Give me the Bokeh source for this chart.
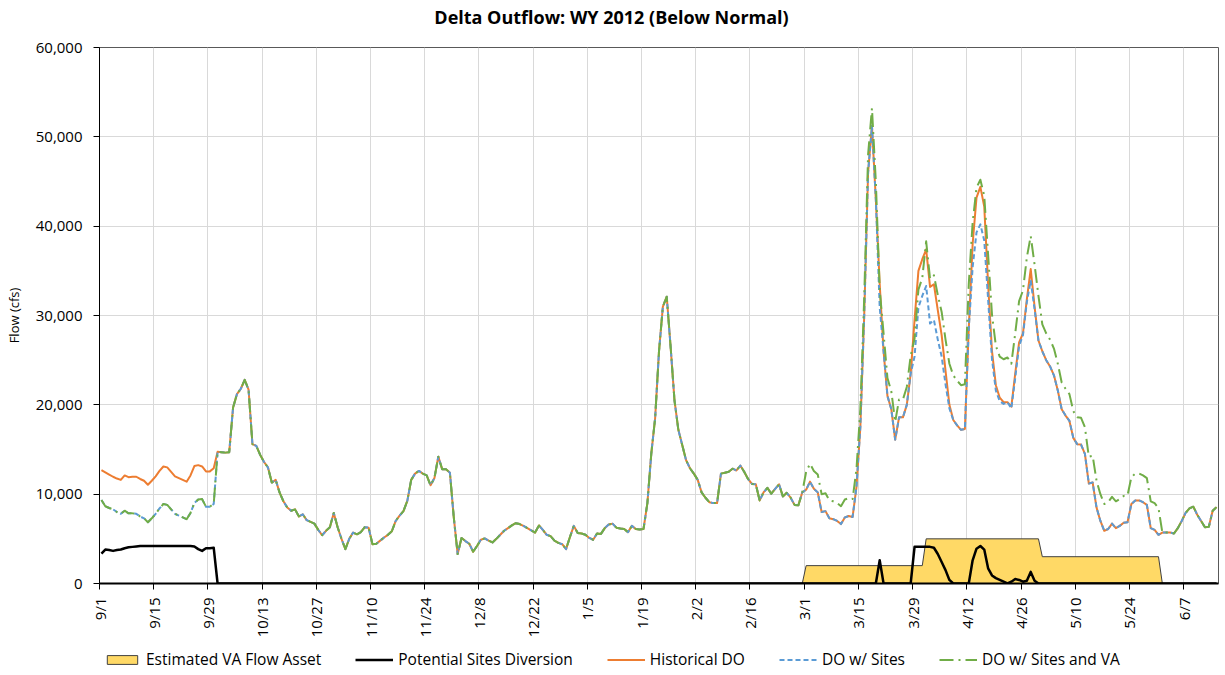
import numpy as np
import pandas as pd
from bokeh.plotting import figure
from bokeh.layouts import column
from bokeh.models import (Range1d, FixedTicker, NumeralTickFormatter, Legend,
                          LegendItem, Label)
from bokeh.embed import file_html
from bokeh.resources import INLINE

FONT = "Open Sans"

# Daily flows, 9/1/2011 - 6/15/2012 (cfs)
dates = pd.date_range("2011-09-01", "2012-06-15", freq="D")

historical_do = [
    12700, 12450, 12200, 11950, 11750, 11600, 12100, 11900, 11950, 11950,
    11700, 11500, 11050, 11500, 12000, 12600, 13100, 13000, 12500, 12000,
    11800, 11600, 11400, 12100, 13150, 13250, 13100, 12550, 12550, 12900,
    14750, 14700, 14650, 14700, 19700, 21200, 21800, 22800, 21700, 15600,
    15400, 14400, 13600, 13000, 11300, 11600, 10200, 9200, 8500, 8150,
    8300, 7500, 7750, 7100, 6900, 6700, 6000, 5400, 5900, 6300,
    7900, 6300, 5000, 3850, 5000, 5700, 5500, 5750, 6300, 6250,
    4400, 4450, 4800, 5150, 5450, 5850, 7000, 7600, 8100, 9250,
    11600, 12300, 12600, 12300, 12100, 11000, 11800, 14200, 12800, 12800,
    12400, 7400, 3300, 5100, 4750, 4450, 3550, 4200, 4900, 5050,
    4800, 4600, 5000, 5450, 5900, 6200, 6500, 6750, 6650, 6450,
    6200, 5950, 5700, 6500, 6000, 5450, 5300, 4800, 4550, 4400,
    3850, 5200, 6450, 5650, 5600, 5450, 5100, 4900, 5600, 5550,
    6200, 6600, 6700, 6250, 6150, 6100, 5750, 6450, 6100, 6050,
    6100, 9000, 14500, 18500, 26000, 31000, 32100, 26500, 20500, 17200,
    15500, 13800, 12900, 12300, 11600, 10200, 9600, 9100, 9000, 9000,
    12300, 12400, 12500, 12850, 12650, 13200, 12500, 11700, 11150, 11100,
    9300, 10200, 10700, 10050, 10600, 11100, 9750, 10150, 9600, 8800,
    8750, 10200, 10500, 11400, 10600, 10200, 8000, 8100, 7300, 7200,
    7000, 6650, 7400, 7550, 7450, 10800, 17500, 30000, 46000, 51200,
    43000, 33500, 26000, 21000, 19500, 16100, 18600, 18600, 20000, 23500,
    29500, 35000, 36300, 37400, 33200, 33500, 30600, 27800, 23800, 20000,
    18300, 17700, 17200, 17300, 28500, 38000, 43200, 44400, 42200, 33500,
    26000, 22200, 20800, 20300, 20300, 19800, 23500, 27000, 28000, 31800,
    35200, 31000, 27200, 26000, 25000, 24300, 23300, 21600, 19500, 18800,
    18200, 16300, 15600, 15550, 14500, 11200, 11300, 8500, 7000, 5900,
    6100, 6700, 6200, 6450, 6800, 6850, 8900, 9300, 9300, 9100,
    8800, 6200, 6000, 5450, 5700, 5700, 5700, 5600, 6200, 7000,
    7900, 8400, 8600, 7700, 7000, 6300, 6350, 8150, 8550,
]

do_sites = [
    9350, 8650, 8450, 8300, 8000, 7800, 8150, 7850, 7850, 7800,
    7500, 7300, 6850, 7300, 7800, 8400, 8900, 8800, 8300, 7800,
    7600, 7400, 7200, 7900, 9000, 9400, 9450, 8600, 8600, 8900,
    14750, 14700, 14650, 14700, 19700, 21200, 21800, 22800, 21700, 15600,
    15400, 14400, 13600, 13000, 11300, 11600, 10200, 9200, 8500, 8150,
    8300, 7500, 7750, 7100, 6900, 6700, 6000, 5400, 5900, 6300,
    7900, 6300, 5000, 3850, 5000, 5700, 5500, 5750, 6300, 6250,
    4400, 4450, 4800, 5150, 5450, 5850, 7000, 7600, 8100, 9250,
    11600, 12300, 12600, 12300, 12100, 11000, 11800, 14200, 12800, 12800,
    12400, 7400, 3300, 5100, 4750, 4450, 3550, 4200, 4900, 5050,
    4800, 4600, 5000, 5450, 5900, 6200, 6500, 6750, 6650, 6450,
    6200, 5950, 5700, 6500, 6000, 5450, 5300, 4800, 4550, 4400,
    3850, 5200, 6450, 5650, 5600, 5450, 5100, 4900, 5600, 5550,
    6200, 6600, 6700, 6250, 6150, 6100, 5750, 6450, 6100, 6050,
    6100, 9000, 14500, 18500, 26000, 31000, 32100, 26500, 20500, 17200,
    15500, 13800, 12900, 12300, 11600, 10200, 9600, 9100, 9000, 9000,
    12300, 12400, 12500, 12850, 12650, 13200, 12500, 11700, 11150, 11100,
    9300, 10200, 10700, 10050, 10600, 11100, 9750, 10150, 9600, 8800,
    8750, 10200, 10500, 11400, 10600, 10200, 8000, 8100, 7300, 7200,
    7000, 6650, 7400, 7550, 7450, 10800, 17500, 30000, 46000, 51200,
    43000, 30900, 26000, 21000, 19500, 16100, 18600, 18600, 20000, 23500,
    25400, 30900, 32200, 33300, 29100, 29500, 27300, 25400, 22300, 19600,
    18300, 17700, 17200, 17300, 28500, 35400, 39300, 40200, 38400, 31800,
    25100, 21600, 20400, 20100, 20300, 19600, 23000, 26600, 27800, 31500,
    33900, 30700, 27200, 26000, 25000, 24300, 23300, 21600, 19500, 18800,
    18200, 16300, 15600, 15550, 14500, 11200, 11300, 8500, 7000, 5900,
    6100, 6700, 6200, 6450, 6800, 6850, 8900, 9300, 9300, 9100,
    8800, 6200, 6000, 5450, 5700, 5700, 5700, 5600, 6200, 7000,
    7900, 8400, 8600, 7700, 7000, 6300, 6350, 8150, 8550,
]

do_sites_va = [
    9350, 8650, 8450, 8300, 8000, 7800, 8150, 7850, 7850, 7800,
    7500, 7300, 6850, 7300, 7800, 8400, 8900, 8800, 8300, 7800,
    7600, 7400, 7200, 7900, 9000, 9400, 9450, 8600, 8600, 8900,
    14750, 14700, 14650, 14700, 19700, 21200, 21800, 22800, 21700, 15600,
    15400, 14400, 13600, 13000, 11300, 11600, 10200, 9200, 8500, 8150,
    8300, 7500, 7750, 7100, 6900, 6700, 6000, 5400, 5900, 6300,
    7900, 6300, 5000, 3850, 5000, 5700, 5500, 5750, 6300, 6250,
    4400, 4450, 4800, 5150, 5450, 5850, 7000, 7600, 8100, 9250,
    11600, 12300, 12600, 12300, 12100, 11000, 11800, 14200, 12800, 12800,
    12400, 7400, 3300, 5100, 4750, 4450, 3550, 4200, 4900, 5050,
    4800, 4600, 5000, 5450, 5900, 6200, 6500, 6750, 6650, 6450,
    6200, 5950, 5700, 6500, 6000, 5450, 5300, 4800, 4550, 4400,
    3850, 5200, 6450, 5650, 5600, 5450, 5100, 4900, 5600, 5550,
    6200, 6600, 6700, 6250, 6150, 6100, 5750, 6450, 6100, 6050,
    6100, 9000, 14500, 18500, 26000, 31000, 32100, 26500, 20500, 17200,
    15500, 13800, 12900, 12300, 11600, 10200, 9600, 9100, 9000, 9000,
    12300, 12400, 12500, 12850, 12650, 13200, 12500, 11700, 11150, 11100,
    9300, 10200, 10700, 10050, 10600, 11100, 9750, 10150, 9600, 8800,
    8750, 10200, 12500, 13400, 12600, 12200, 10000, 10100, 9300, 9200,
    9000, 8650, 9400, 9550, 9450, 12800, 19500, 32000, 48000, 53200,
    45000, 32900, 28000, 23000, 21500, 18100, 20600, 20600, 22000, 25500,
    27400, 32900, 34200, 38300, 34100, 34500, 32300, 30400, 27300, 24600,
    23300, 22700, 22200, 22300, 33500, 40400, 44300, 45200, 43400, 36800,
    30100, 26600, 25400, 25100, 25300, 24600, 28000, 31600, 32800, 36500,
    38900, 35700, 32200, 29000, 28000, 27300, 26300, 24600, 22500, 21800,
    21200, 19300, 18600, 18550, 17500, 14200, 14300, 11500, 10000, 8900,
    9100, 9700, 9200, 9450, 9800, 9850, 11900, 12300, 12300, 12100,
    11800, 9200, 9000, 8450, 5700, 5700, 5700, 5600, 6200, 7000,
    7900, 8400, 8600, 7700, 7000, 6300, 6350, 8150, 8550,
]

# Potential Sites diversion (cfs), break points
div_dates = [
    "2011-09-01", "2011-09-02", "2011-09-03", "2011-09-04", "2011-09-05",
    "2011-09-06", "2011-09-07", "2011-09-08", "2011-09-09", "2011-09-10",
    "2011-09-11", "2011-09-24", "2011-09-25", "2011-09-26", "2011-09-27",
    "2011-09-28", "2011-09-29", "2011-09-30", "2011-10-01",
    "2012-03-19", "2012-03-20", "2012-03-21",
    "2012-03-28", "2012-03-29", "2012-04-02", "2012-04-03", "2012-04-04",
    "2012-04-05", "2012-04-06", "2012-04-07", "2012-04-08",
    "2012-04-12", "2012-04-13", "2012-04-14", "2012-04-15", "2012-04-16",
    "2012-04-17", "2012-04-18", "2012-04-19", "2012-04-20", "2012-04-21",
    "2012-04-22", "2012-04-23", "2012-04-24", "2012-04-25", "2012-04-26",
    "2012-04-27", "2012-04-28", "2012-04-29", "2012-04-30", "2012-06-15",
]
div_cfs = [
    3350, 3800, 3750, 3650, 3750,
    3800, 3950, 4050, 4100, 4150,
    4200, 4200, 4150, 3850, 3650,
    3950, 3950, 4000, 0,
    0, 2600, 0,
    0, 4100, 4100, 4000, 3300,
    2400, 1500, 400, 0,
    0, 2600, 3900, 4200, 3800,
    1700, 900, 600, 400, 200,
    0, 200, 500, 400, 200,
    300, 1300, 300, 0, 0,
]

# Estimated VA flow asset (cfs), monthly blocks
va_dates = ["2011-09-01", "2012-02-29", "2012-03-01", "2012-03-31", "2012-04-01",
            "2012-04-30", "2012-05-01", "2012-05-31", "2012-06-01", "2012-06-15"]
va_cfs = [0, 0, 2000, 2000, 5000, 5000, 3000, 3000, 0, 0]

tick_dates = ["2011-09-01", "2011-09-15", "2011-09-29", "2011-10-13", "2011-10-27",
              "2011-11-10", "2011-11-24", "2011-12-08", "2011-12-22", "2012-01-05",
              "2012-01-19", "2012-02-02", "2012-02-16", "2012-03-01", "2012-03-15",
              "2012-03-29", "2012-04-12", "2012-04-26", "2012-05-10", "2012-05-24",
              "2012-06-07"]
tick_labels = ["9/1", "9/15", "9/29", "10/13", "10/27", "11/10", "11/24", "12/8",
               "12/22", "1/5", "1/19", "2/2", "2/16", "3/1", "3/15", "3/29", "4/12",
               "4/26", "5/10", "5/24", "6/7"]

TITLE = "Delta Outflow: WY 2012 (Below Normal)"

t0 = pd.Timestamp("2011-09-01")


def day_pos(values):
    """Days since 9/1/2011; each day occupies one slot on the axis."""
    return list((pd.to_datetime(values) - t0) / pd.Timedelta(days=1))


x_daily = [d + 0.5 for d in day_pos(dates)]
x_div = [d + 0.5 for d in day_pos(div_dates)]
x_va = [d + 0.5 for d in day_pos(va_dates)]
x_ticks = [int(d) for d in day_pos(tick_dates)]
n_days = len(dates)

W = 1225
LEFT, RIGHT = 99, 7                 # side borders shared by all three strips
TOP_H, MAIN_H, LEG_H = 37, 608, 30

# styles shared by the chart and its legend strip
va_style = dict(fill_color="#FFD966", line_color="#404040", line_width=1)
div_style = dict(line_color="#000000", line_width=2.5, line_join="round")
hist_style = dict(line_color="#ED7D31", line_width=2, line_join="round")
sites_style = dict(line_color="#5B9BD5", line_width=2, line_dash="5 3", line_join="round")
sites_va_style = dict(line_color="#70AD47", line_width=2, line_dash="14 5 2 5",
                      line_join="round")


def blank_strip(height, y_range):
    # x in page pixels, frame spanning the same columns as the chart frame
    f = figure(width=W, height=height, output_backend="svg", toolbar_location=None,
               x_range=Range1d(LEFT, W - RIGHT), y_range=y_range,
               min_border_left=LEFT, min_border_right=RIGHT,
               min_border_top=0, min_border_bottom=0,
               x_axis_location=None, y_axis_location=None)
    f.grid.visible = False
    f.outline_line_color = None
    f.background_fill_color = "white"
    f.border_fill_color = "white"
    return f


# heading strip (y measured downward from the top of the page)
head = blank_strip(TOP_H, Range1d(TOP_H, 0))
head.add_layout(Label(x=611, y=16, text=TITLE, text_align="center",
                      text_baseline="alphabetic", text_font=FONT, text_font_size="18px",
                      text_font_style="bold", text_color="#000000"))

# main chart
p = figure(width=W, height=MAIN_H, output_backend="svg", toolbar_location=None,
           x_range=Range1d(0, n_days), y_range=Range1d(0, 60000),
           min_border_left=LEFT, min_border_right=RIGHT, min_border_top=10,
           min_border_bottom=62)
p.background_fill_color = "white"
p.border_fill_color = "white"
p.outline_line_color = "#595959"
p.outline_line_width = 1

p.xaxis.ticker = FixedTicker(ticks=x_ticks)
p.xaxis.major_label_overrides = {t: lab for t, lab in zip(x_ticks, tick_labels)}
p.xaxis.major_label_orientation = np.pi / 2
p.yaxis.ticker = FixedTicker(ticks=[0, 10000, 20000, 30000, 40000, 50000, 60000])
p.yaxis.formatter = NumeralTickFormatter(format="0,0")
p.yaxis.axis_label = "Flow (cfs)"
p.yaxis.axis_label_text_font = FONT
p.yaxis.axis_label_text_font_size = "13px"
p.yaxis.axis_label_text_font_style = "normal"
p.yaxis.axis_label_text_color = "#000000"
p.yaxis.axis_label_standoff = 10

for ax in (p.xaxis[0], p.yaxis[0]):
    ax.axis_line_color = "#000000"
    ax.axis_line_width = 1
    ax.major_tick_line_color = "#000000"
    ax.major_tick_out = 6
    ax.major_tick_in = 0
    ax.minor_tick_out = 0
    ax.minor_tick_in = 0
    ax.major_label_text_font = FONT
    ax.major_label_text_font_size = "15px"
    ax.major_label_text_color = "#000000"
p.xaxis.axis_line_width = 2
p.xaxis.major_label_standoff = 8
p.yaxis.major_label_standoff = 11

p.xgrid.grid_line_color = "#D9D9D9"
p.ygrid.grid_line_color = "#D9D9D9"

p.patch(x=x_va + x_va[::-1], y=va_cfs + [0] * len(va_cfs), **va_style)
p.line(x_div, div_cfs, **div_style)
p.line(x_daily, historical_do, **hist_style)
p.line(x_daily, do_sites, **sites_style)
p.line(x_daily, do_sites_va, **sites_va_style)

# legend strip: key glyphs come from off-frame stand-in renderers
leg = blank_strip(LEG_H, Range1d(0, LEG_H))
off = [-100, -99, -99]
items = [
    LegendItem(label="Estimated VA Flow Asset",
               renderers=[leg.patch(x=off, y=[-100, -100, -99], **va_style)]),
    LegendItem(label="Potential Sites Diversion",
               renderers=[leg.line(x=off[:2], y=[-100, -100], **div_style)]),
    LegendItem(label="Historical DO",
               renderers=[leg.line(x=off[:2], y=[-100, -100], **hist_style)]),
    LegendItem(label="DO w/ Sites",
               renderers=[leg.line(x=off[:2], y=[-100, -100], **sites_style)]),
    LegendItem(label="DO w/ Sites and VA",
               renderers=[leg.line(x=off[:2], y=[-100, -100], **sites_va_style)]),
]
legend = Legend(
    items=items, orientation="horizontal", location=(103 - LEFT, 5),
    glyph_width=38, glyph_height=11, label_standoff=5, spacing=34,
    padding=0, margin=0, label_height=20,
    border_line_alpha=0, background_fill_alpha=0,
    label_text_font=FONT, label_text_font_size="15.5px", label_text_color="#000000",
)
leg.add_layout(legend)

page = column(head, p, leg, spacing=0)
open("out.html", "w").write(file_html(page, INLINE))
